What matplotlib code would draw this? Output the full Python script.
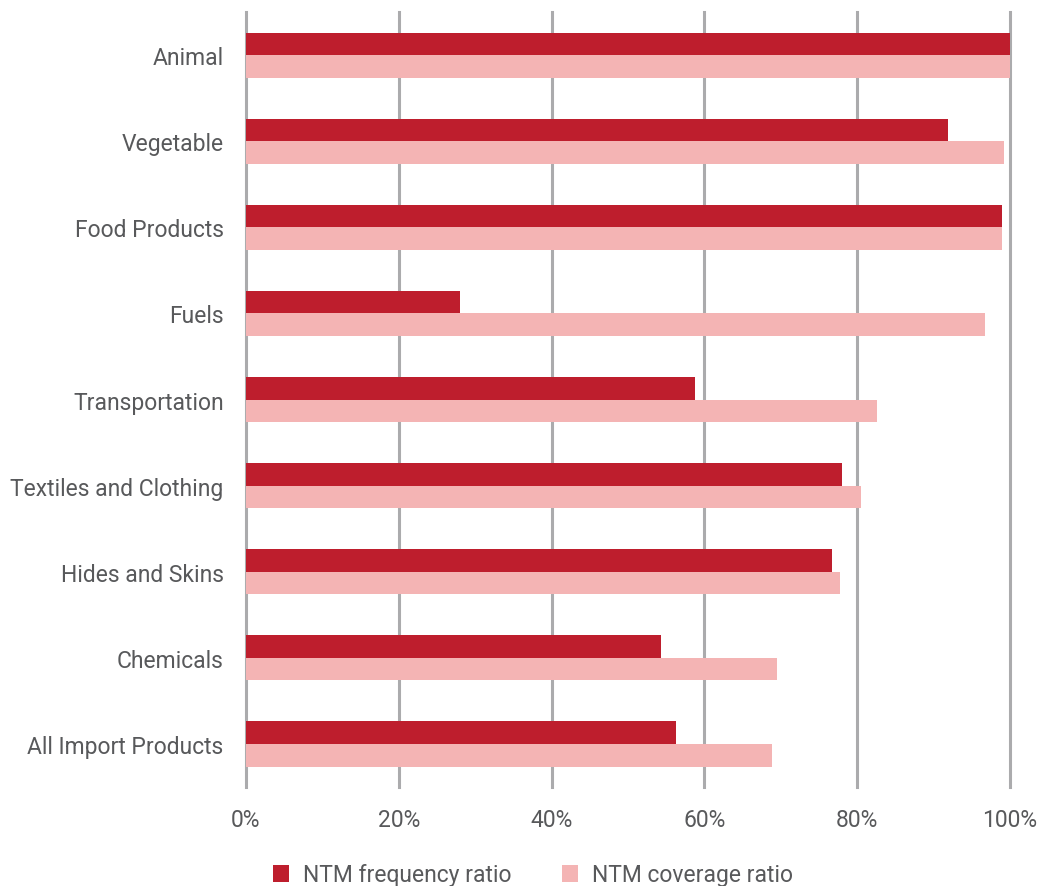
import numpy as np
from matplotlib import pyplot as plt
from matplotlib.ticker import PercentFormatter

categories = ['Animal', 'Vegetable', 'Food Products', 'Fuels', 'Transportation',
              'Textiles and Clothing', 'Hides and Skins', 'Chemicals', 'All Import Products']
frequency = [100.0, 91.9, 98.9, 28.0, 58.8, 78.0, 76.7, 54.3, 56.3]
coverage = [100.0, 99.2, 99.0, 96.7, 82.6, 80.5, 77.7, 69.5, 68.8]
xticks = [0, 20, 40, 60, 80, 100]

plt.rcParams['font.family'] = ['Roboto', 'DejaVu Sans']
text_col = '#58595B'
fs = 16.5

fig = plt.figure(figsize=(10.4, 8.87), dpi=100)
ax = fig.add_axes([0.2365, 0.1116, 0.7346, 0.8737])

y = np.arange(len(categories))
h = 0.262
ax.barh(y - h / 2, frequency, height=h, color='#BE1E2D', label='NTM frequency ratio', zorder=3)
ax.barh(y + h / 2, coverage, height=h, color='#F4B4B4', label='NTM coverage ratio', zorder=3)

ax.set_xlim(0, 100)
ax.set_ylim(len(categories) - 0.5, -0.5)
ax.set_xticks(xticks)
ax.xaxis.set_major_formatter(PercentFormatter(decimals=0))
ax.set_yticks(y)
ax.set_yticklabels(categories)
ax.grid(axis='x', color='#ABABAD', linewidth=2.2, zorder=1)
for gl in ax.get_xgridlines():
    gl.set_clip_on(False)
for s in ax.spines.values():
    s.set_visible(False)
ax.tick_params(axis='both', length=0, labelsize=fs, colors=text_col)
ax.tick_params(axis='y', pad=16)
ax.tick_params(axis='x', pad=15)

ax.legend(loc='center', bbox_to_anchor=(533 / 1040, 1 - 876 / 887),
          bbox_transform=fig.transFigure, ncol=2, frameon=False,
          fontsize=fs, labelcolor=text_col, handlelength=0.7, handleheight=0.7,
          columnspacing=2.2, handletextpad=0.6)

fig.savefig('out.png', dpi=100)
